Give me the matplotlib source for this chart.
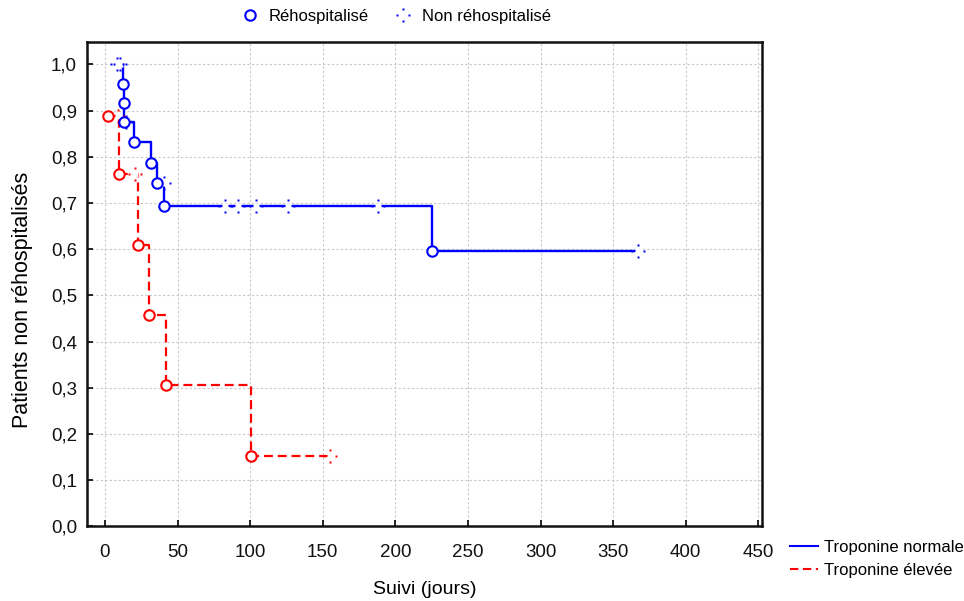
import numpy as np
import matplotlib
matplotlib.use("Agg")
import matplotlib.pyplot as plt
from matplotlib.path import Path
from matplotlib.lines import Line2D
from matplotlib.ticker import FuncFormatter, MultipleLocator

plt.rcParams['font.family'] = ['Liberation Sans', 'DejaVu Sans']

# Troponine normale: events (circles) and censored times
blue_event_t = [12.2, 13.3, 13.4, 20.2, 31.5, 36.0, 40.9, 225.2]
blue_event_s = [0.958, 0.917, 0.875, 0.831, 0.787, 0.743, 0.693, 0.595]
blue_cens_t = [8.3, 10.5, 14.3, 40.8, 82.6, 91.3, 104.0, 125.8, 187.8, 366.8]
blue_cens_s = [1.0, 1.0, 0.875, 0.743, 0.693, 0.693, 0.693, 0.693, 0.693, 0.595]

# Troponine elevee
red_event_t = [1.8, 9.9, 22.5, 30.3, 41.8, 100.3]
red_event_s = [0.889, 0.762, 0.610, 0.457, 0.305, 0.152]
red_cens_t = [8.7, 20.6, 154.9]
red_cens_s = [0.889, 0.762, 0.152]

xticks = list(range(0, 451, 50))

BLUE = '#0000ff'
RED = '#ff0000'

# censor mark: four small dots in a cross
def _sq(cx, cy, h=0.16):
    return [(cx - h, cy - h), (cx + h, cy - h), (cx + h, cy + h), (cx - h, cy + h), (cx - h, cy - h)]

verts, codes = [], []
for c in [(0, 0.8), (0, -0.8), (0.8, 0), (-0.8, 0)]:
    v = _sq(*c)
    verts += v
    codes += [Path.MOVETO] + [Path.LINETO] * 3 + [Path.CLOSEPOLY]
CENS = Path(verts, codes)

fig = plt.figure(figsize=(9.64, 6.01), dpi=100)
ax = fig.add_axes([0.0899, 0.1243, 0.7006, 0.8063])

ax.grid(True, color='#c8c8c8', linestyle=(0, (2, 2)), linewidth=0.8)
ax.set_axisbelow(True)

# step curves
bx = np.r_[blue_cens_t[0], blue_event_t, blue_cens_t[-1]]
by = np.r_[1.0, blue_event_s, blue_event_s[-1]]
ax.step(bx, by, where='post', color=BLUE, lw=1.7, zorder=3)

rx = np.r_[red_event_t, red_cens_t[-1]]
ry = np.r_[red_event_s, red_event_s[-1]]
ax.step(rx, ry, where='post', color=RED, lw=1.6, dashes=(4, 2.2), zorder=3)

# censored marks (white gap then dots)
for t, s, c in [(blue_cens_t, blue_cens_s, BLUE), (red_cens_t, red_cens_s, RED)]:
    ax.plot(t, s, ls='none', marker='s', ms=4.5, mfc='white', mec='none', zorder=4)
    ax.plot(t, s, ls='none', marker=CENS, ms=10, mfc=c, mec='none', zorder=5)

# events
ax.plot(blue_event_t, blue_event_s, ls='none', marker='o', ms=7.5, mfc='white',
        mec=BLUE, mew=1.5, zorder=6)
ax.plot(red_event_t, red_event_s, ls='none', marker='o', ms=7.5, mfc='white',
        mec=RED, mew=1.5, zorder=6)

ax.set_xlim(-12.6, 452.5)
ax.set_ylim(0, 1.049)
ax.set_xticks(xticks)
ax.yaxis.set_major_locator(MultipleLocator(0.1))
ax.yaxis.set_major_formatter(FuncFormatter(lambda v, p: f"{v:.1f}".replace('.', ',')))
ax.tick_params(direction='in', length=4, width=1.2, labelsize=13.5,
               labelcolor='#111111')
ax.tick_params(axis='x', pad=13)
ax.tick_params(axis='y', pad=7)
for sp in ax.spines.values():
    sp.set_linewidth(1.8)
    sp.set_color('#111111')

ax.set_xlabel('Suivi (jours)', fontsize=14, labelpad=14)
ax.set_ylabel('Patients non réhospitalisés', fontsize=15.5)
ax.yaxis.set_label_coords(-0.08, 0.468)

# top legend (event types)
h1 = [Line2D([], [], ls='none', marker='o', ms=7.5, mfc='white', mec=BLUE, mew=1.5),
      Line2D([], [], ls='none', marker=CENS, ms=10, mfc=BLUE, mec='none')]
fig.legend(h1, ['Réhospitalisé', 'Non réhospitalisé'], loc='center',
           bbox_to_anchor=(0.411, 0.972), ncol=2, frameon=False, fontsize=12,
           handlelength=1.0, handletextpad=0.6, columnspacing=1.6)

# bottom-right legend (groups)
h2 = [Line2D([], [], color=BLUE, lw=1.5),
      Line2D([], [], color=RED, lw=1.5, dashes=(4, 2.2))]
fig.legend(h2, ['Troponine normale', 'Troponine élevée'], loc='upper left',
           bbox_to_anchor=(0.819, 0.102), frameon=False, fontsize=12,
           handlelength=1.7, handletextpad=0.35, borderpad=0, borderaxespad=0,
           labelspacing=0.5)

fig.savefig('out.png', dpi=100)
